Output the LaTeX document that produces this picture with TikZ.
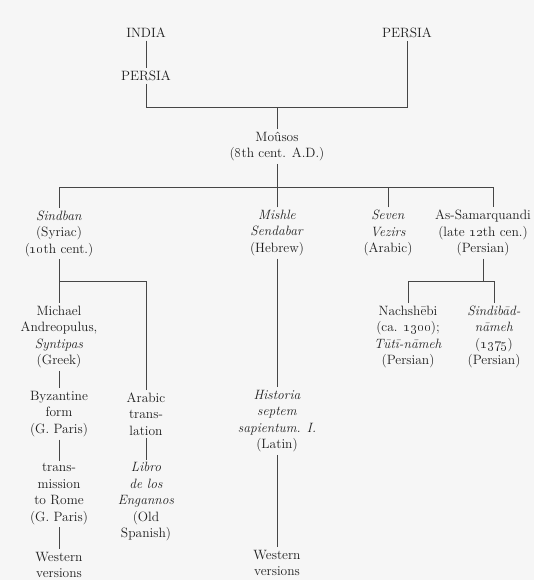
\documentclass[tikz,border=0pt]{standalone}
\usepackage{xcolor}
\definecolor{bg}{RGB}{246,246,246}
\definecolor{ink}{RGB}{30,30,30}
\definecolor{wirec}{RGB}{70,70,70}
\begin{document}
\begin{tikzpicture}[x=1pt,y=-1pt,
  lbl/.style={align=center,inner xsep=1pt,inner ysep=2.5pt,text=ink,font=\fontsize{13.5}{16.5}\selectfont},
  wire/.style={draw=wirec,line width=1pt}]
\fill[bg] (0,0) rectangle (534,580);
\useasboundingbox (0,0) rectangle (534,580);

\node[lbl] (india) at (146,33) {INDIA};
\node[lbl] (persiaA) at (146,76) {PERSIA};
\node[lbl] (persiaB) at (407,33) {PERSIA};
\node[lbl] (mousos) at (277,146.5) {Moûsos\\(\oldstylenums{8}th cent. A.D.)};

\node[lbl] (sindban) at (59,233.5) {\textit{Sindban}\\(Syriac)\\(\oldstylenums{10}th cent.)};
\node[lbl] (mishle) at (277,233) {\textit{Mishle}\\\textit{Sendabar}\\(Hebrew)};
\node[lbl] (seven) at (388,233) {\textit{Seven}\\\textit{Vezirs}\\(Arabic)};
\node[lbl] (samar) at (483,233) {As-Samarquandi\\(late \oldstylenums{12}th cen.)\\(Persian)};

\node[lbl] (michael) at (59,337) {Michael\\Andreopulus,\\\textit{Syntipas}\\(Greek)};
\node[lbl] (nach) at (408,337) {Nachshēbi\\(ca. \oldstylenums{1300});\\\textit{Tūtī-nāmeh}\\(Persian)};
\node[lbl] (sindibad) at (494,337) {\textit{Sindibād-}\\\textit{nāmeh}\\(\oldstylenums{1375})\\(Persian)};

\node[lbl] (byz) at (59,414) {Byzantine\\form\\(G. Paris)};
\node[lbl] (arabic) at (146,414) {Arabic\\trans-\\lation};
\node[lbl] (historia) at (277,421) {\textit{Historia}\\\textit{septem}\\\textit{sapientum. I.}\\(Latin)};

\node[lbl] (trans) at (59,494) {trans-\\mission\\to Rome\\(G. Paris)};
\node[lbl] (libro) at (146,502) {\textit{Libro}\\\textit{de los}\\\textit{Engannos}\\(Old\\Spanish)};

\node[lbl] (westA) at (59,565) {Western\\versions};
\node[lbl] (westB) at (277,563) {Western\\versions};

\coordinate (topbar) at (0,108);
\coordinate (midbar) at (0,187);
\coordinate (lowbar) at (0,281);
\coordinate (samtop) at (493,187);

\draw[wire] (india) -- (persiaA);
\draw[wire] (persiaA.south) -- (persiaA.south |- topbar) -- (persiaB.south |- topbar) -- (persiaB.south);
\draw[wire] (mousos.north) -- (mousos.north |- topbar);

\draw[wire] (mousos.south) -- (mousos.south |- midbar);
\draw[wire] (sindban.north) -- (sindban.north |- midbar) -- (samtop) -- (samtop |- samar.north);
\draw[wire] (mishle.north) -- (mishle.north |- midbar);
\draw[wire] (seven.north) -- (seven.north |- midbar);

\draw[wire] (sindban.south) -- (michael.north);
\draw[wire] (sindban.south |- lowbar) -- (arabic.north |- lowbar) -- (arabic.north);
\draw[wire] (michael) -- (byz);
\draw[wire] (byz) -- (trans);
\draw[wire] (trans) -- (westA);
\draw[wire] (arabic) -- (libro);

\draw[wire] (mishle) -- (historia);
\draw[wire] (historia) -- (westB);

\draw[wire] (samar.south) -- (samar.south |- lowbar);
\draw[wire] (nach.north) -- (nach.north |- lowbar) -- (sindibad.north |- lowbar) -- (sindibad.north);
\end{tikzpicture}
\end{document}
